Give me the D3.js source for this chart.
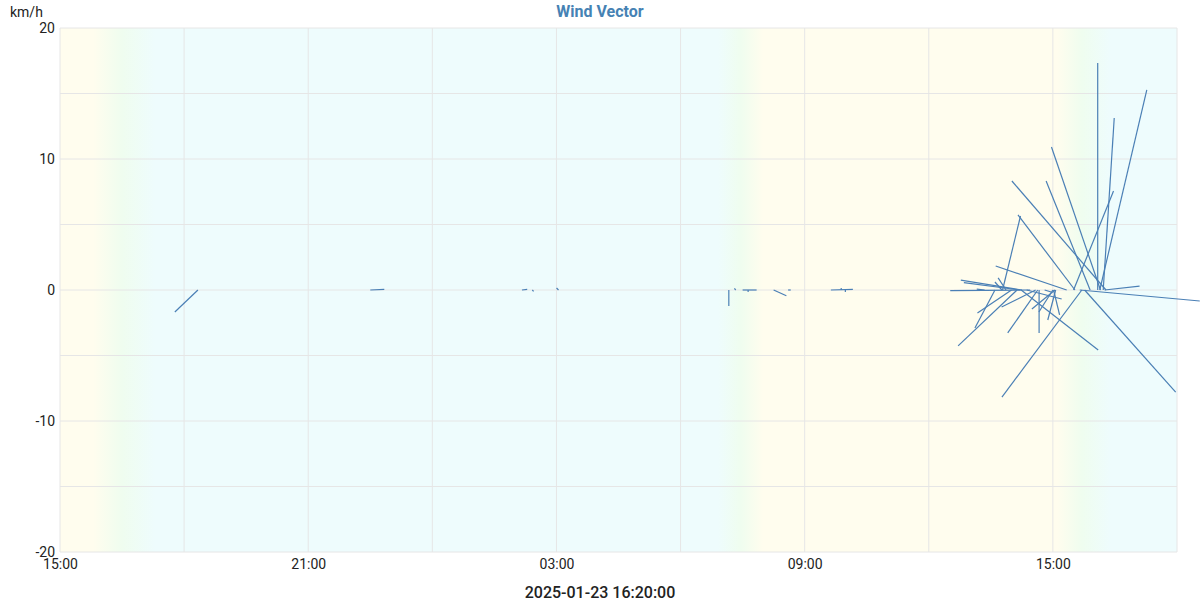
<!DOCTYPE html>
<html>
<head>
<meta charset="utf-8">
<script src="https://cdn.jsdelivr.net/npm/d3@7"></script>
<style>
	body { margin: 0; background: #fff; font-family: Roboto, "Noto Sans", sans-serif; }
	.grid line { stroke: #e6e6e6; stroke-width: 1; }
	.axis text { font-size: 14px; fill: #222; font-family: Roboto, sans-serif; }
	.axis path, .axis line { display: none; }
</style>
</head>
<body>
<div id="chart"></div>
<script>

// observation times (local), wind components in km/h
let times = [
	"2025-01-22 18:20", "2025-01-22 22:30", "2025-01-23 02:10", "2025-01-23 02:25", "2025-01-23 03:03",
	"2025-01-23 07:10", "2025-01-23 07:20", "2025-01-23 07:30", "2025-01-23 07:38", "2025-01-23 08:15",
	"2025-01-23 08:36", "2025-01-23 09:38", "2025-01-23 09:53", "2025-01-23 09:59",
	"2025-01-23 13:21", "2025-01-23 13:36", "2025-01-23 13:46", "2025-01-23 13:47", "2025-01-23 13:52",
	"2025-01-23 14:00", "2025-01-23 14:08", "2025-01-23 14:12", "2025-01-23 14:14", "2025-01-23 14:15",
	"2025-01-23 14:22", "2025-01-23 14:27", "2025-01-23 14:35", "2025-01-23 14:38", "2025-01-23 14:40",
	"2025-01-23 14:48", "2025-01-23 15:00", "2025-01-23 15:01", "2025-01-23 15:03", "2025-01-23 15:04",
	"2025-01-23 15:20", "2025-01-23 15:30", "2025-01-23 15:32", "2025-01-23 15:39", "2025-01-23 15:42",
	"2025-01-23 15:46", "2025-01-23 15:54", "2025-01-23 16:05", "2025-01-23 16:08", "2025-01-23 16:09",
	"2025-01-23 16:13", "2025-01-23 16:15", "2025-01-23 16:17"
];
let windU = [
	-1.76, 1.07, 0.4, 0.1, -0.15,
	0, -0.1, 1.07, 0, 0.97,
	0.2, 1.68, 0, 0,
	-0.6, -1.53, -0.53, 1.37, -0.6,
	-2.6, -4.5, -4.27, 5.88, -4.66,
	2.67, -6.1, -2.6, -2.29, 0,
	0.5, -1.07, 0.46, -1.76, -0.6,
	-5.42, 3.05, -4.35, 9.16, -6.1,
	6.95, -3.36, 0, 3.59, -3.74,
	0.84, 2.67, -7.18
];
let windV = [
	-1.68, 0.05, 0.05, -0.1, 0.15,
	-1.22, 0.12, 0, -0.15, -0.44,
	0, 0.05, 0.15, -0.15,
	0.07, -2.9, 0.61, 5.65, 0.92,
	-1.76, -4.27, 0.57, -4.58, 0.76,
	-0.69, -0.05, -1.3, -3.28, -3.28,
	-0.15, -1.68, -1.9, -1.45, -2.29,
	1.83, 7.56, 5.73, -0.84, -8.17,
	-7.79, 8.32, 17.33, 15.27, 10.92,
	13.13, 0.3, 8.32
];

let yTicks = [-20, -10, 0, 10, 20];
let yGrid = [-20, -15, -10, -5, 0, 5, 10, 15, 20];
let timeRange = ["2025-01-22 15:00", "2025-01-23 18:00"];

// day / night background stops
let skyTimes = ["2025-01-22 15:00", "2025-01-22 15:48", "2025-01-22 16:30", "2025-01-22 17:18",
	"2025-01-23 06:54", "2025-01-23 07:27", "2025-01-23 08:00",
	"2025-01-23 15:06", "2025-01-23 15:42", "2025-01-23 16:24", "2025-01-23 18:00"];
let skyColors = ["#fffdee", "#fffdee", "#effdef", "#eefcfd",
	"#eefcfd", "#effdef", "#fffdee",
	"#fffdee", "#effdef", "#eefcfd", "#eefcfd"];

let chartTitle = "Wind Vector";
let unitLabel = "km/h";
let stampLabel = "2025-01-23 16:20:00";


class WindVectorChart {

	constructor(parentElement) {
		this.parentElement = parentElement;
		this.initVis();
	}

	initVis() {
		let vis = this;

		vis.margin = {top: 28, right: 23, bottom: 48, left: 60};
		vis.width = 1200 - vis.margin.left - vis.margin.right;
		vis.height = 600 - vis.margin.top - vis.margin.bottom;

		vis.root = d3.select("#" + vis.parentElement).append("svg")
			.attr("width", 1200)
			.attr("height", 600)
			.style("display", "block");

		vis.svg = vis.root.append("g")
			.attr("transform", "translate(" + vis.margin.left + "," + vis.margin.top + ")");

		vis.parse = d3.timeParse("%Y-%m-%d %H:%M");

		vis.xScale = d3.scaleTime()
			.domain(timeRange.map(vis.parse))
			.range([0, vis.width]);

		vis.yScale = d3.scaleLinear()
			.domain([-20, 20])
			.range([vis.height, 0]);

		vis.wrangleData();
	}

	wrangleData() {
		let vis = this;
		vis.displayData = times.map((t, i) => ({time: vis.parse(t), u: windU[i], v: windV[i]}));
		vis.updateVis();
	}

	updateVis() {
		let vis = this;
		let [t0, t1] = vis.xScale.domain();
		let tEnd = d3.timeMinute.offset(t1, 1);

		// background gradient
		let grad = vis.root.append("defs").append("linearGradient")
			.attr("id", "sky")
			.attr("gradientUnits", "userSpaceOnUse")
			.attr("x1", 0).attr("x2", vis.width)
			.attr("y1", 0).attr("y2", 0);

		grad.selectAll("stop")
			.data(skyTimes)
			.enter().append("stop")
			.attr("offset", d => vis.xScale(vis.parse(d)) / vis.width)
			.attr("stop-color", (d, i) => skyColors[i]);

		vis.svg.append("rect")
			.attr("width", vis.width)
			.attr("height", vis.height)
			.attr("fill", "url(#sky)");

		// grid
		let grid = vis.svg.append("g").attr("class", "grid");
		grid.selectAll(".hline")
			.data(yGrid)
			.enter().append("line")
			.attr("x1", 0).attr("x2", vis.width)
			.attr("y1", d => vis.yScale(d)).attr("y2", d => vis.yScale(d));

		let xGrid = d3.timeHour.range(t0, tEnd, 3);
		grid.selectAll(".vline")
			.data(xGrid)
			.enter().append("line")
			.attr("x1", d => vis.xScale(d)).attr("x2", d => vis.xScale(d))
			.attr("y1", 0).attr("y2", vis.height);

		// axes (ticks every 6h counted from the start, 15:00)
		vis.xAxis = d3.axisBottom(vis.xScale)
			.tickValues(d3.timeHour.range(t0, tEnd, 6))
			.tickFormat(d3.timeFormat("%H:%M"))
			.tickSize(0)
			.tickPadding(7);

		vis.yAxis = d3.axisLeft(vis.yScale)
			.tickValues(yTicks)
			.tickFormat(d => String(d))
			.tickSize(0)
			.tickPadding(5);

		vis.svg.append("g")
			.attr("class", "x-axis axis")
			.attr("transform", "translate(0," + vis.height + ")")
			.call(vis.xAxis);

		vis.svg.append("g")
			.attr("class", "y-axis axis")
			.call(vis.yAxis);

		// vectors, tail on the zero line, same px-per-km/h both ways
		let k = vis.yScale(0) - vis.yScale(1);

		vis.svg.selectAll(".vec")
			.data(vis.displayData)
			.enter().append("line")
			.attr("class", "vec")
			.attr("x1", d => vis.xScale(d.time))
			.attr("y1", vis.yScale(0))
			.attr("x2", d => vis.xScale(d.time) + d.u * k)
			.attr("y2", d => vis.yScale(d.v))
			.attr("stroke", "#4a7fb5")
			.attr("stroke-width", 1.2);

		// labels
		vis.root.append("text")
			.attr("x", 600).attr("y", 17)
			.attr("text-anchor", "middle")
			.attr("font-size", 16)
			.attr("font-weight", "bold")
			.attr("fill", "#4682b4")
			.text(chartTitle);

		vis.root.append("text")
			.attr("x", 10).attr("y", 17)
			.attr("font-size", 14)
			.attr("fill", "#222")
			.text(unitLabel);

		vis.root.append("text")
			.attr("x", 600).attr("y", 598)
			.attr("text-anchor", "middle")
			.attr("font-size", 16)
			.attr("font-weight", 500)
			.attr("fill", "#222")
			.text(stampLabel);
	}
}

new WindVectorChart("chart");
</script>
</body>
</html>
